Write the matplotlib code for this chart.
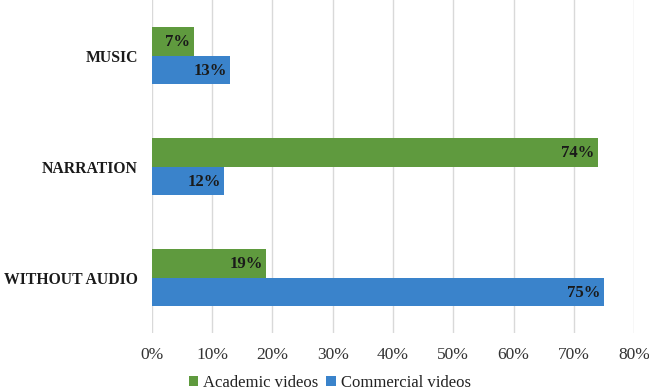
import numpy as np
import matplotlib.pyplot as plt
from matplotlib.ticker import PercentFormatter

categories = ['MUSIC', 'NARRATION', 'WITHOUT AUDIO']
academic = [7, 74, 19]
commercial = [13, 12, 75]

green = '#5f9a3e'
blue = '#3a83cb'

plt.rcParams['font.family'] = ['Liberation Serif', 'DejaVu Serif']

fig = plt.figure(figsize=(6.49, 3.90), dpi=100)
ax = fig.add_axes([0.234, 0.146, 0.743, 0.854])

y = np.arange(len(categories))
h = 0.26
b1 = ax.barh(y - h / 2, academic, height=h, color=green, label='Academic videos', zorder=2)
b2 = ax.barh(y + h / 2, commercial, height=h, color=blue, label='Commercial videos', zorder=2)

for bars, vals in [(b1, academic), (b2, commercial)]:
    for bar, v in zip(bars, vals):
        ax.text(v - 0.6, bar.get_y() + bar.get_height() / 2 + 0.01, f'{v}%',
                ha='right', va='center', fontsize=12, fontweight='bold', color='#1a1a1a')

ax.set_xlim(0, 80)
ax.set_ylim(2.5, -0.5)
ax.set_xticks(range(0, 81, 10))
ax.xaxis.set_major_formatter(PercentFormatter(decimals=0))
ax.set_yticks(y)
ax.set_yticklabels(categories, fontsize=11.3, fontweight='bold', color='#1a1a1a')
ax.tick_params(axis='x', length=0, labelsize=12.5, colors='#333333', pad=10)
ax.tick_params(axis='y', length=0, pad=10)
ax.grid(axis='x', color='#d9d9d9', linewidth=1, zorder=0)
for s in ax.spines.values():
    s.set_visible(False)

fig.legend(loc='lower center', bbox_to_anchor=(0.508, -0.04), ncol=2, frameon=False,
           fontsize=12, handlelength=0.55, handleheight=0.55, handletextpad=0.3,
           columnspacing=0.5, labelcolor='#222222')

fig.savefig('out.png', dpi=100)
